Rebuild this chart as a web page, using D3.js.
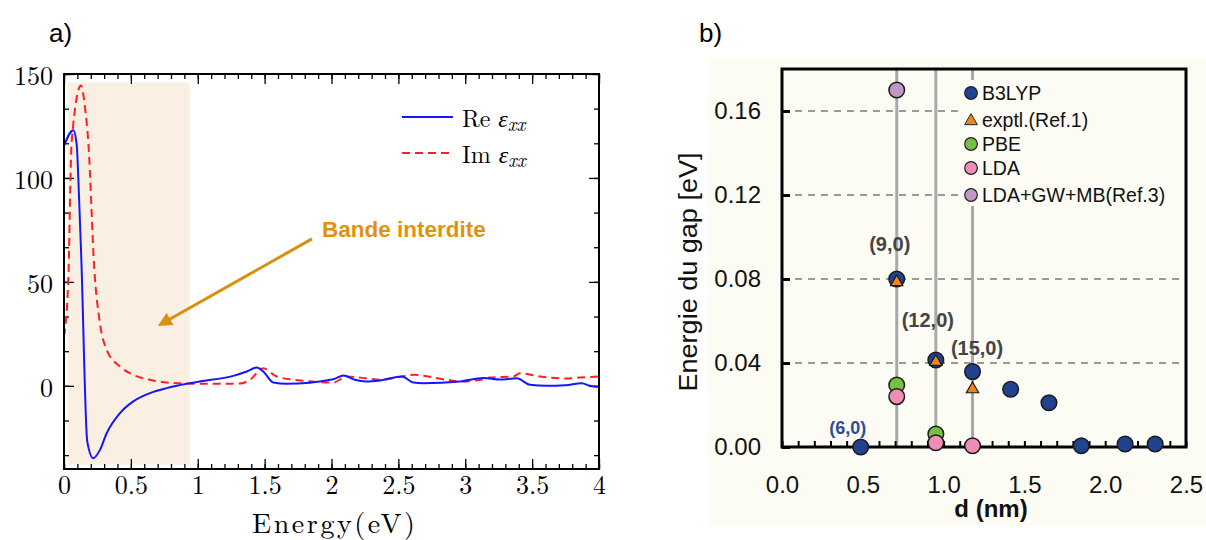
<!DOCTYPE html>
<html><head><meta charset="utf-8">
<script src="https://cdn.jsdelivr.net/npm/d3@7"></script>
<style>body{margin:0;background:#fff}svg{display:block}</style>
</head><body>
<svg id="c" width="1206" height="540"></svg>
<script>
// ---------- Panel a data ----------
const reEnergy = [0,0.07,0.095,0.107,0.13,0.174,0.219,0.269,0.319,0.419,0.518,0.643,0.768,0.917,1.017,1.266,1.366,1.44,1.49,1.565,1.664,2.013,2.09,2.175,2.26,2.363,2.525,2.612,2.686,2.961,3.135,3.26,3.385,3.484,3.609,3.75,3.871,3.93,4.0];
const reValues = [115.4,123,116,100,60,-26.8,-34.8,-30.8,-22.8,-13.1,-7.5,-3.5,-1.1,1,2.1,4.8,6.9,8.8,6.9,1.6,1,3.2,5,2.9,2.1,2.6,4.5,1.6,1.3,2.1,3.8,3,3.6,0.5,0,0.3,1.3,0,-0.6];
const imEnergy = [0,0.032,0.057,0.127,0.157,0.182,0.227,0.269,0.319,0.419,0.518,0.643,0.768,1.017,1.316,1.39,1.49,1.59,1.765,2.013,2.114,2.26,2.363,2.525,2.612,2.861,2.98,3.11,3.185,3.36,3.409,3.559,3.758,3.858,4.0];
const imValues = [23.7,51,117,144.5,134,117,55.8,30,17.3,9.3,5.3,2.9,1.6,1,1.1,2.9,8.5,4.5,2.6,1.6,4.5,3.6,2.9,4.5,5.3,2.9,2.1,2.9,4,4.5,6.1,4.5,3.5,4,4.5];
const aXTicks = [0,0.5,1,1.5,2,2.5,3,3.5,4];
const aXTickLabels = ["0","0.5","1","1.5","2","2.5","3","3.5","4"];
const aYTicks = [0,50,100,150];
const bandGap = [0.03, 0.94];

// ---------- Panel b data ----------
const b3lypD = [0.487,0.71,0.952,1.179,1.415,1.652,1.852,2.123,2.309];
const b3lypE = [0,0.08,0.0414,0.0359,0.0275,0.0211,0.0006,0.0014,0.0014];
const exptD = [0.71,0.952,1.179];
const exptE = [0.079,0.041,0.028];
const pbeD = [0.71,0.952];
const pbeE = [0.0295,0.0062];
const ldaD = [0.71,0.952,1.179];
const ldaE = [0.024,0.002,0.0006];
const gwD = [0.71];
const gwE = [0.17];
const tubeD = [0.71,0.952,1.179];
const tubeLabels = ["(9,0)","(12,0)","(15,0)"];
const bXTicks = [0,0.5,1,1.5,2,2.5];
const bYTicks = [0,0.04,0.08,0.12,0.16];
const legendNames = ["B3LYP","exptl.(Ref.1)","PBE","LDA","LDA+GW+MB(Ref.3)"];

const svg = d3.select("#c");

// ================= PANEL A =================
const xa = d3.scaleLinear([0,4],[64,599]);
const ya = d3.scaleLinear([-40,150],[469,74]);
const serif = "'Latin Modern Roman','CMU Serif','Liberation Serif',serif";

svg.append("text").attr("x",49).attr("y",42).attr("font-family","Liberation Sans,Arial,sans-serif")
  .attr("font-size",26).text("a)");

// shaded band gap
svg.append("rect").attr("x",xa(bandGap[0])).attr("y",ya(146))
  .attr("width",xa(bandGap[1])-xa(bandGap[0])).attr("height",ya(-38)-ya(146))
  .attr("fill","#f9f0e3");

const ga = svg.append("g");
function inAxis(axisFn, scale, ticks, size, transform){
  const ax = axisFn(scale).tickValues(ticks).tickSizeInner(size).tickSizeOuter(0).tickFormat("");
  const g = ga.append("g").attr("transform",transform).call(ax);
  g.select(".domain").remove();
  g.selectAll("line").attr("stroke","#000").attr("stroke-width",1.3);
  return g;
}
const xMinor = d3.range(0,4.0001,0.1).map(v=>+v.toFixed(2));
const yMinor = d3.range(-50/3*2,150.001,50/3).map(v=>+v.toFixed(3)).filter(v=>v>=-40);
inAxis(d3.axisBottom, xa, xMinor, -5, `translate(0,469)`);
inAxis(d3.axisTop, xa, xMinor, -5, `translate(0,74)`);
inAxis(d3.axisBottom, xa, aXTicks, -10, `translate(0,469)`);
inAxis(d3.axisTop, xa, aXTicks, -10, `translate(0,74)`);
inAxis(d3.axisLeft, ya, yMinor, -5, `translate(64,0)`);
inAxis(d3.axisRight, ya, yMinor, -5, `translate(599,0)`);
inAxis(d3.axisLeft, ya, aYTicks, -10, `translate(64,0)`);
inAxis(d3.axisRight, ya, aYTicks, -10, `translate(599,0)`);
// labels
const xl = ga.append("g").attr("transform","translate(0,469)")
  .call(d3.axisBottom(xa).tickValues(aXTicks).tickSize(0).tickPadding(7).tickFormat((d,i)=>aXTickLabels[i]));
xl.select(".domain").remove();
xl.selectAll("text").attr("font-family",serif).attr("font-size",26).attr("fill","#000");
const yl = ga.append("g").attr("transform","translate(64,0)")
  .call(d3.axisLeft(ya).tickValues(aYTicks).tickSize(0).tickPadding(11).tickFormat(d3.format("d")));
yl.select(".domain").remove();
yl.selectAll("text").attr("font-family",serif).attr("font-size",26).attr("fill","#000").attr("dy","0.42em");

// curves
const lineA = (xs,ys)=>d3.line().x((d,i)=>xa(xs[i])).y((d,i)=>ya(ys[i])).curve(d3.curveMonotoneX)(xs);
svg.append("path").attr("d",lineA(imEnergy,imValues)).attr("fill","none")
  .attr("stroke","#ff1f1f").attr("stroke-width",2).attr("stroke-dasharray","8,5");
svg.append("path").attr("d",lineA(reEnergy,reValues)).attr("fill","none")
  .attr("stroke","#1515ff").attr("stroke-width",2);

// frame
svg.append("rect").attr("x",64).attr("y",74).attr("width",599-64).attr("height",469-74)
  .attr("fill","none").attr("stroke","#000").attr("stroke-width",2);

// legend
const legA = svg.append("g");
legA.append("line").attr("x1",402).attr("x2",453).attr("y1",117).attr("y2",117).attr("stroke","#1515ff").attr("stroke-width",2);
legA.append("line").attr("x1",402).attr("x2",453).attr("y1",153).attr("y2",153).attr("stroke","#ff1f1f").attr("stroke-width",2).attr("stroke-dasharray","8,5");
[["Re",127],["Im",163]].forEach(([t,yy])=>{
  const tx = legA.append("text").attr("x",462).attr("y",yy).attr("font-family",serif).attr("font-size",24);
  tx.append("tspan").text(t+" ");
  tx.append("tspan").attr("font-style","italic").text("ε");
  tx.append("tspan").attr("font-style","italic").attr("font-size",19).attr("dy",4).text("xx");
});

// annotation
svg.append("defs").append("marker").attr("id","ah").attr("viewBox","0 0 10 10").attr("refX",8).attr("refY",5)
  .attr("markerWidth",16).attr("markerHeight",14).attr("orient","auto").attr("markerUnits","userSpaceOnUse")
  .append("path").attr("d","M0,0 L10,5 L0,10 z").attr("fill","#d8900f");
svg.append("line").attr("x1",xa(1.854)).attr("y1",ya(70.7)).attr("x2",xa(0.72)).attr("y2",ya(29.5))
  .attr("stroke","#d8900f").attr("stroke-width",3).attr("marker-end","url(#ah)");
svg.append("text").attr("x",322).attr("y",237).attr("font-family","Liberation Sans,Arial,sans-serif")
  .attr("font-weight","bold").attr("font-size",22.5).attr("fill","#e0920f").text("Bande interdite");

svg.append("text").attr("x",252).attr("y",533).attr("font-family",serif)
  .attr("font-size",28).attr("textLength",163).attr("lengthAdjust","spacing").text("Energy(eV)");

// ================= PANEL B =================
const sans = "Liberation Sans,Arial,Helvetica,sans-serif";
svg.append("text").attr("x",699).attr("y",42).attr("font-family",sans).attr("font-size",26).text("b)");
svg.append("rect").attr("x",708).attr("y",58).attr("width",498).attr("height",467).attr("fill","#fcfcf5");

const xb = d3.scaleLinear([0,2.5],[782,1186]);
const yb = d3.scaleLinear([0,0.18],[447,69]);
const gb = svg.append("g");

// dashed grid
gb.selectAll(".grid").data(bYTicks.slice(1)).join("line")
  .attr("x1",xb(0)).attr("x2",xb(2.5)).attr("y1",d=>yb(d)).attr("y2",d=>yb(d))
  .attr("stroke","#7a7a7a").attr("stroke-width",1.3).attr("stroke-dasharray","7,6");

// vertical tube lines
gb.selectAll(".vl").data(tubeD).join("line")
  .attr("x1",d=>xb(d)).attr("x2",d=>xb(d)).attr("y1",yb(0.18)).attr("y2",yb(0))
  .attr("stroke","#a9a9a9").attr("stroke-width",3);

// axes ticks
const bxMinor = d3.range(0,2.5001,0.1).map(v=>+v.toFixed(2));
const bxa = gb.append("g").attr("transform","translate(0,447)")
  .call(d3.axisBottom(xb).tickValues(bxMinor).tickSizeInner(-6).tickSizeOuter(0).tickFormat(""));
bxa.select(".domain").remove();
bxa.selectAll("line").attr("stroke","#000").attr("stroke-width",2);
const bya = gb.append("g").attr("transform","translate(782,0)")
  .call(d3.axisLeft(yb).tickValues(bYTicks).tickSizeInner(-8).tickSizeOuter(0).tickFormat(""));
bya.select(".domain").remove();
bya.selectAll("line").attr("stroke","#000").attr("stroke-width",3);

const bxl = gb.append("g").attr("transform","translate(0,447)")
  .call(d3.axisBottom(xb).tickValues(bXTicks).tickSize(0).tickPadding(29).tickFormat(d3.format(".1f")));
bxl.select(".domain").remove();
bxl.selectAll("text").attr("font-family",sans).attr("font-size",24).attr("fill","#111");
const byl = gb.append("g").attr("transform","translate(782,0)")
  .call(d3.axisLeft(yb).tickValues(bYTicks).tickSize(0).tickPadding(21).tickFormat(d3.format(".2f")));
byl.select(".domain").remove();
byl.selectAll("text").attr("font-family",sans).attr("font-size",24).attr("fill","#111");

// frame
gb.append("rect").attr("x",xb(0)).attr("y",yb(0.18)).attr("width",xb(2.5)-xb(0)).attr("height",yb(0)-yb(0.18))
  .attr("fill","none").attr("stroke","#000").attr("stroke-width",3);

// legend background + entries
gb.append("rect").attr("x",962).attr("y",80).attr("width",217).attr("height",126).attr("fill","#fcfcf5");
const colB3 = "#22418f", colEx = "#f0861b", colPBE = "#76bf42", colLDA = "#ef8db6", colGW = "#c097c6";
const legY = [93,120,144,168,195];
const legCols = [colB3,colEx,colPBE,colLDA,colGW];
legendNames.forEach((n,i)=>{
  if(i===1){
    gb.append("path").attr("d",d3.symbol(d3.symbolTriangle,70)()).attr("transform",`translate(971,${legY[i]+1})`)
      .attr("fill",colEx).attr("stroke","#222").attr("stroke-width",1);
  } else {
    gb.append("circle").attr("cx",971).attr("cy",legY[i]).attr("r",6.3).attr("fill",legCols[i]).attr("stroke","#222").attr("stroke-width",1.2);
  }
  gb.append("text").attr("x",982).attr("y",legY[i]).attr("dy","0.36em").attr("font-family",sans)
    .attr("font-size",19.5).attr("fill","#111").text(n);
});

// points
function dots(ds,es,col){
  gb.append("g").selectAll("circle").data(ds).join("circle")
    .attr("cx",d=>xb(d)).attr("cy",(d,i)=>yb(es[i])).attr("r",7.8)
    .attr("fill",col).attr("stroke","#1a1a1a").attr("stroke-width",1.5);
}
dots(gwD,gwE,colGW);
dots(pbeD,pbeE,colPBE);
dots(ldaD,ldaE,colLDA);
dots(b3lypD,b3lypE,colB3);
gb.append("g").selectAll("path").data(exptD).join("path")
  .attr("d",d3.symbol(d3.symbolTriangle,66)())
  .attr("transform",(d,i)=>`translate(${xb(d)},${yb(exptE[i])+1})`)
  .attr("fill",colEx).attr("stroke","#1a1a1a").attr("stroke-width",1.2);

// tube labels
const labPos = [[-7,0.0967],[-8,0.0605],[4.5,0.0471]];
tubeLabels.forEach((t,i)=>{
  gb.append("text").attr("x",xb(tubeD[i])+labPos[i][0]).attr("y",yb(labPos[i][1])).attr("dy","0.36em")
    .attr("text-anchor","middle").attr("font-family",sans).attr("font-weight","bold").attr("font-size",20)
    .attr("fill","#444").text(t);
});
gb.append("text").attr("x",xb(b3lypD[0])-13).attr("y",yb(0.0095)).attr("dy","0.36em").attr("text-anchor","middle")
  .attr("font-family",sans).attr("font-weight","bold").attr("font-size",18).attr("fill","#2b4c9b").text("(6,0)");

// axis titles
svg.append("text").attr("x",991).attr("y",517).attr("text-anchor","middle").attr("font-family",sans)
  .attr("font-weight","bold").attr("font-size",24).attr("fill","#111").text("d (nm)");
svg.append("text").attr("transform","translate(697,272) rotate(-90)").attr("text-anchor","middle")
  .attr("font-family",sans).attr("font-size",26).attr("textLength",239).attr("lengthAdjust","spacingAndGlyphs")
  .attr("fill","#111").text("Energie du gap [eV]");
</script>
</body></html>
